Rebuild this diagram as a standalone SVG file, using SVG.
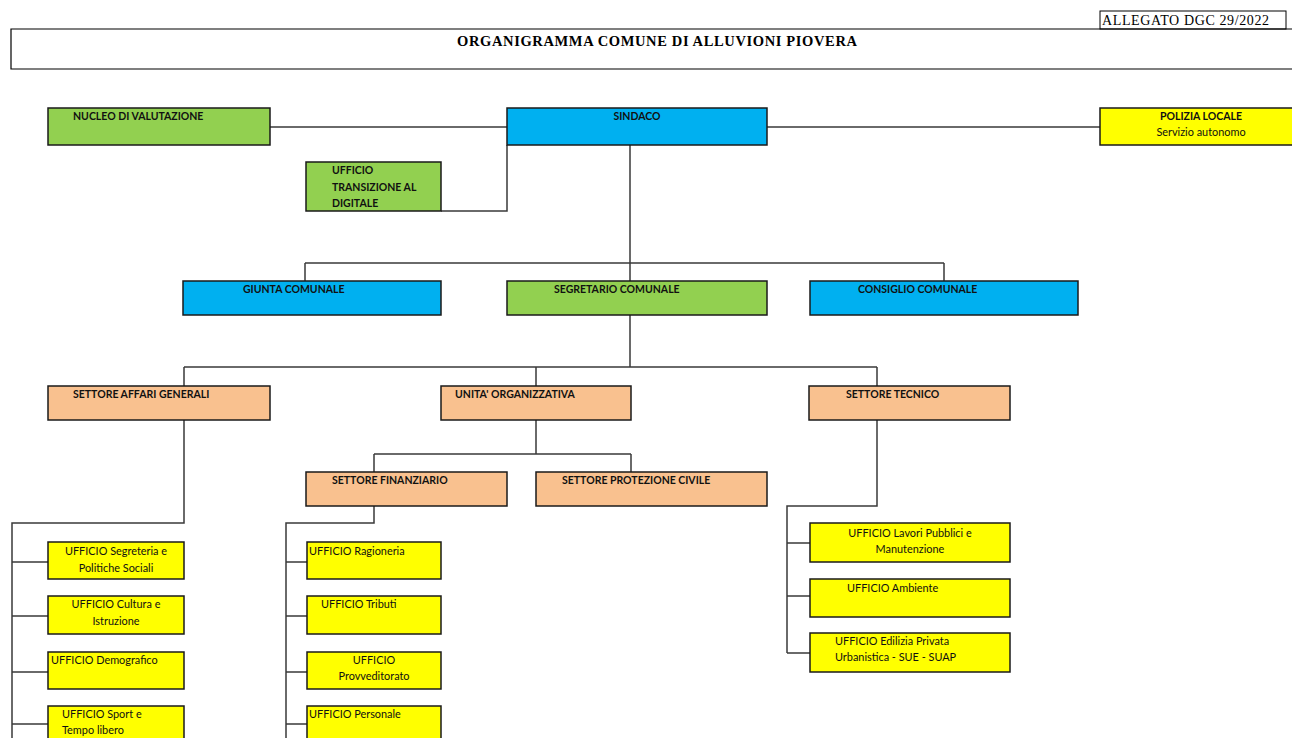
<svg xmlns="http://www.w3.org/2000/svg" width="1292" height="738" viewBox="0 0 1292 738">
<style>
.bx{stroke:#1a1a1a;stroke-width:1.5}
.g{fill:#92D050}.b{fill:#00B0F0}.y{fill:#FFFF00}.s{fill:#F9C18F}
.t{font-family:Lato,"Liberation Sans",sans-serif;font-size:10.9px;fill:#111}
.bd{font-weight:bold;font-size:10.5px}
.c{text-anchor:middle}
.ln{fill:none;stroke:#3a3a3a;stroke-width:1.5}
.hd{font-family:"Liberation Serif",serif;fill:#000}
</style>
<rect width="1292" height="738" fill="#fff"/>
<g id="header">
<path d="M1294,29 H11 V69 H1294" fill="none" stroke="#000" stroke-width="1.2"/>
<rect x="1100" y="11" width="186" height="18" fill="none" stroke="#000" stroke-width="1"/>
<text class="hd" x="1102" y="25" font-size="14" textLength="167">ALLEGATO DGC 29/2022</text>
<text class="hd" x="457" y="46" font-size="14.5" font-weight="bold" textLength="400">ORGANIGRAMMA COMUNE DI ALLUVIONI PIOVERA</text>
</g>
<g id="connectors">
<path class="ln" d="M270,127 H507 M767,127 H1100 M507,145 V211 H441"/>
<path class="ln" d="M630,145 V263 M305,263 H944 M305,263 V281 M630,263 V281 M944,263 V281"/>
<path class="ln" d="M630,315 V367 M184,367 H877 M184,367 V386 M536,367 V386 M877,367 V386"/>
<path class="ln" d="M536,420 V454 M374,454 H631 M374,454 V472 M631,454 V472"/>
<path class="ln" d="M184,420 V523 H12 V738 M12,562 H48 M12,616 H48 M12,672 H48 M12,724 H48"/>
<path class="ln" d="M374,506 V523 H286 V738 M286,562 H307 M286,616 H307 M286,672 H307 M286,724 H307"/>
<path class="ln" d="M877,420 V506 H787 V653 M787,543 H810 M787,596 H810 M787,653 H810"/>
</g>
<g id="nucleo"><rect class="bx g" x="48" y="108" width="222" height="37"/><text class="t bd" x="73" y="120">NUCLEO DI VALUTAZIONE</text></g>
<g id="sindaco"><rect class="bx b" x="507" y="108" width="260" height="37"/><text class="t bd c" x="637" y="120">SINDACO</text></g>
<g id="polizia"><rect class="bx y" x="1100" y="108" width="200" height="37"/><text class="t bd c" x="1201" y="120">POLIZIA LOCALE</text><text class="t c" x="1201" y="136">Servizio autonomo</text></g>
<g id="transizione"><rect class="bx g" x="306" y="162" width="135" height="49"/><text class="t bd" x="332" y="174">UFFICIO</text><text class="t bd" x="332" y="191">TRANSIZIONE AL</text><text class="t bd" x="332" y="207">DIGITALE</text></g>
<g id="giunta"><rect class="bx b" x="183" y="281" width="258" height="34"/><text class="t bd" x="243" y="293">GIUNTA COMUNALE</text></g>
<g id="segretario"><rect class="bx g" x="507" y="281" width="260" height="34"/><text class="t bd" x="554" y="293">SEGRETARIO COMUNALE</text></g>
<g id="consiglio"><rect class="bx b" x="810" y="281" width="268" height="34"/><text class="t bd" x="858" y="293">CONSIGLIO COMUNALE</text></g>
<g id="affari"><rect class="bx s" x="48" y="386" width="222" height="34"/><text class="t bd" x="73" y="398">SETTORE AFFARI GENERALI</text></g>
<g id="unita"><rect class="bx s" x="441" y="386" width="190" height="34"/><text class="t bd" x="455" y="398">UNITA' ORGANIZZATIVA</text></g>
<g id="tecnico"><rect class="bx s" x="809" y="386" width="201" height="34"/><text class="t bd" x="846" y="398">SETTORE TECNICO</text></g>
<g id="finanziario"><rect class="bx s" x="306" y="472" width="201" height="34"/><text class="t bd" x="332" y="484">SETTORE FINANZIARIO</text></g>
<g id="protezione"><rect class="bx s" x="536" y="472" width="231" height="34"/><text class="t bd" x="562" y="484">SETTORE PROTEZIONE CIVILE</text></g>
<g id="segreteria"><rect class="bx y" x="48" y="542" width="136" height="37"/><text class="t c" x="116" y="555">UFFICIO Segreteria e</text><text class="t c" x="116" y="572">Politiche Sociali</text></g>
<g id="cultura"><rect class="bx y" x="48" y="596" width="136" height="38"/><text class="t c" x="116" y="608">UFFICIO Cultura e</text><text class="t c" x="116" y="625">Istruzione</text></g>
<g id="demografico"><rect class="bx y" x="48" y="652" width="136" height="37"/><text class="t" x="51" y="664">UFFICIO Demografico</text></g>
<g id="sport"><rect class="bx y" x="48" y="706" width="136" height="40"/><text class="t" x="62" y="718">UFFICIO Sport e</text><text class="t" x="62" y="734">Tempo libero</text></g>
<g id="ragioneria"><rect class="bx y" x="307" y="542" width="134" height="37"/><text class="t" x="309" y="555">UFFICIO Ragioneria</text></g>
<g id="tributi"><rect class="bx y" x="307" y="596" width="134" height="38"/><text class="t" x="321" y="608">UFFICIO Tributi</text></g>
<g id="provveditorato"><rect class="bx y" x="307" y="652" width="134" height="37"/><text class="t c" x="374" y="664">UFFICIO</text><text class="t c" x="374" y="680">Provveditorato</text></g>
<g id="personale"><rect class="bx y" x="307" y="706" width="134" height="40"/><text class="t" x="309" y="718">UFFICIO Personale</text></g>
<g id="lavori"><rect class="bx y" x="810" y="523" width="200" height="39"/><text class="t c" x="910" y="537">UFFICIO Lavori Pubblici e</text><text class="t c" x="910" y="553">Manutenzione</text></g>
<g id="ambiente"><rect class="bx y" x="810" y="579" width="200" height="38"/><text class="t" x="847" y="592">UFFICIO Ambiente</text></g>
<g id="edilizia"><rect class="bx y" x="810" y="633" width="200" height="39"/><text class="t" x="835" y="645">UFFICIO Edilizia Privata</text><text class="t" x="835" y="661">Urbanistica - SUE - SUAP</text></g>
</svg>
